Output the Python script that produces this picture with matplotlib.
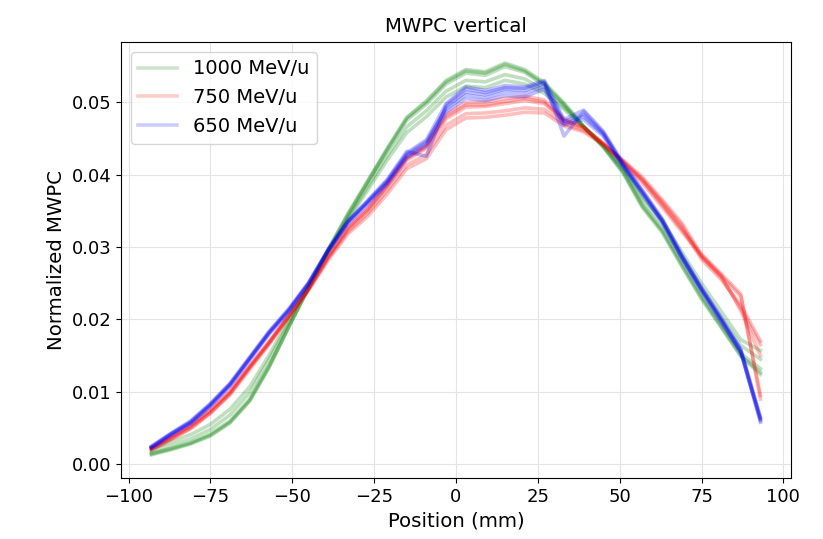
import matplotlib
matplotlib.use("Agg")
import matplotlib.pyplot as plt

# wire positions of the vertical MWPC (mm)
position = [-93, -87, -81, -75, -69, -63, -57, -51, -45, -39, -33, -27, -21, -15, -9, -3,
            3, 9, 15, 21, 27, 33, 39, 45, 51, 57, 63, 69, 75, 81, 87, 93]

# 1000 MeV/u runs
g1 = [0.0014, 0.0021, 0.0029, 0.0040, 0.0058, 0.0088, 0.0135, 0.0190, 0.0243, 0.0296, 0.0345, 0.0390, 0.0435, 0.0478, 0.0500, 0.0528,
      0.0543, 0.0540, 0.0552, 0.0543, 0.0525, 0.0497, 0.0466, 0.0438, 0.0404, 0.0356, 0.0322, 0.0275, 0.0230, 0.0190, 0.0150, 0.0127]
g2 = [0.0013, 0.0020, 0.0028, 0.0039, 0.0057, 0.0087, 0.0134, 0.0190, 0.0244, 0.0297, 0.0346, 0.0391, 0.0436, 0.0479, 0.0502, 0.0530,
      0.0545, 0.0542, 0.0554, 0.0545, 0.0527, 0.0499, 0.0467, 0.0438, 0.0402, 0.0354, 0.0320, 0.0273, 0.0228, 0.0189, 0.0149, 0.0124]
g3 = [0.0015, 0.0022, 0.0030, 0.0042, 0.0060, 0.0090, 0.0137, 0.0191, 0.0243, 0.0295, 0.0343, 0.0388, 0.0433, 0.0475, 0.0497, 0.0525,
      0.0540, 0.0537, 0.0549, 0.0541, 0.0523, 0.0496, 0.0466, 0.0439, 0.0405, 0.0358, 0.0324, 0.0278, 0.0233, 0.0193, 0.0153, 0.0132]
g4 = [0.0018, 0.0026, 0.0035, 0.0048, 0.0068, 0.0099, 0.0145, 0.0196, 0.0245, 0.0294, 0.0340, 0.0383, 0.0426, 0.0466, 0.0488, 0.0515,
      0.0530, 0.0528, 0.0538, 0.0532, 0.0517, 0.0493, 0.0466, 0.0440, 0.0408, 0.0364, 0.0331, 0.0286, 0.0242, 0.0203, 0.0164, 0.0145]
g5 = [0.0022, 0.0031, 0.0041, 0.0055, 0.0076, 0.0107, 0.0151, 0.0200, 0.0246, 0.0293, 0.0337, 0.0378, 0.0420, 0.0458, 0.0480, 0.0507,
      0.0522, 0.0520, 0.0530, 0.0525, 0.0512, 0.0490, 0.0465, 0.0441, 0.0411, 0.0369, 0.0337, 0.0293, 0.0250, 0.0211, 0.0172, 0.0157]

# 750 MeV/u runs
r1 = [0.0020, 0.0035, 0.0050, 0.0071, 0.0097, 0.0133, 0.0167, 0.0204, 0.0242, 0.0287, 0.0326, 0.0352, 0.0385, 0.0422, 0.0438, 0.0480,
      0.0496, 0.0496, 0.0501, 0.0505, 0.0500, 0.0475, 0.0465, 0.0443, 0.0417, 0.0391, 0.0358, 0.0324, 0.0290, 0.0263, 0.0235, 0.0090]
r2 = [0.0019, 0.0034, 0.0049, 0.0070, 0.0096, 0.0131, 0.0166, 0.0203, 0.0243, 0.0288, 0.0327, 0.0353, 0.0386, 0.0424, 0.0441, 0.0483,
      0.0499, 0.0500, 0.0505, 0.0508, 0.0503, 0.0477, 0.0466, 0.0442, 0.0415, 0.0388, 0.0355, 0.0321, 0.0287, 0.0260, 0.0232, 0.0095]
r3 = [0.0021, 0.0036, 0.0051, 0.0072, 0.0098, 0.0134, 0.0168, 0.0205, 0.0242, 0.0286, 0.0324, 0.0350, 0.0383, 0.0420, 0.0436, 0.0477,
      0.0493, 0.0494, 0.0498, 0.0502, 0.0498, 0.0474, 0.0464, 0.0443, 0.0418, 0.0392, 0.0360, 0.0326, 0.0283, 0.0255, 0.0220, 0.0170]
r4 = [0.0022, 0.0037, 0.0053, 0.0074, 0.0100, 0.0135, 0.0169, 0.0205, 0.0241, 0.0284, 0.0321, 0.0346, 0.0378, 0.0413, 0.0428, 0.0468,
      0.0484, 0.0485, 0.0488, 0.0492, 0.0490, 0.0470, 0.0461, 0.0442, 0.0419, 0.0394, 0.0363, 0.0330, 0.0286, 0.0258, 0.0215, 0.0165]
r5 = [0.0023, 0.0038, 0.0054, 0.0075, 0.0101, 0.0136, 0.0170, 0.0206, 0.0240, 0.0282, 0.0318, 0.0342, 0.0373, 0.0408, 0.0422, 0.0462,
      0.0478, 0.0479, 0.0482, 0.0486, 0.0485, 0.0467, 0.0459, 0.0441, 0.0420, 0.0396, 0.0365, 0.0333, 0.0289, 0.0261, 0.0212, 0.0150]

# 650 MeV/u runs
b1 = [0.0024, 0.0042, 0.0058, 0.0082, 0.0110, 0.0146, 0.0182, 0.0213, 0.0250, 0.0296, 0.0335, 0.0362, 0.0390, 0.0428, 0.0446, 0.0490,
      0.0510, 0.0506, 0.0514, 0.0512, 0.0522, 0.0470, 0.0480, 0.0455, 0.0412, 0.0374, 0.0335, 0.0285, 0.0240, 0.0198, 0.0155, 0.0060]
b2 = [0.0023, 0.0041, 0.0057, 0.0081, 0.0109, 0.0145, 0.0181, 0.0212, 0.0249, 0.0295, 0.0334, 0.0361, 0.0389, 0.0426, 0.0443, 0.0493,
      0.0514, 0.0510, 0.0518, 0.0516, 0.0526, 0.0473, 0.0483, 0.0457, 0.0413, 0.0375, 0.0336, 0.0286, 0.0241, 0.0199, 0.0156, 0.0058]
b3 = [0.0025, 0.0043, 0.0060, 0.0084, 0.0112, 0.0148, 0.0184, 0.0215, 0.0251, 0.0297, 0.0336, 0.0364, 0.0393, 0.0432, 0.0425, 0.0496,
      0.0518, 0.0513, 0.0520, 0.0519, 0.0528, 0.0453, 0.0487, 0.0458, 0.0415, 0.0377, 0.0338, 0.0288, 0.0243, 0.0201, 0.0158, 0.0065]
b4 = [0.0022, 0.0040, 0.0056, 0.0080, 0.0108, 0.0144, 0.0180, 0.0211, 0.0248, 0.0294, 0.0332, 0.0359, 0.0387, 0.0423, 0.0440, 0.0486,
      0.0505, 0.0502, 0.0509, 0.0507, 0.0518, 0.0468, 0.0476, 0.0453, 0.0411, 0.0373, 0.0334, 0.0284, 0.0239, 0.0197, 0.0154, 0.0062]
b5 = [0.0024, 0.0042, 0.0059, 0.0083, 0.0111, 0.0147, 0.0183, 0.0214, 0.0250, 0.0296, 0.0335, 0.0363, 0.0392, 0.0430, 0.0448, 0.0498,
      0.0521, 0.0516, 0.0523, 0.0521, 0.0530, 0.0476, 0.0489, 0.0460, 0.0416, 0.0378, 0.0339, 0.0289, 0.0244, 0.0202, 0.0159, 0.0063]

energies = ["1000 MeV/u", "750 MeV/u", "650 MeV/u"]
colors = ["green", "red", "blue"]
runs = [[g1, g2, g3, g4, g5], [r1, r2, r3, r4, r5], [b1, b2, b3, b4, b5]]

fig = plt.figure(figsize=(8.23, 5.39), dpi=100)
ax = fig.add_axes([0.147, 0.1132, 0.814, 0.8089])

for label, col, group in zip(energies, colors, runs):
    for i, prof in enumerate(group):
        ax.plot(position, prof, color=col, alpha=0.25, lw=2.6,
                label=label if i == 0 else None)

ax.set_ylim(-0.0019, 0.0583)
ax.grid(True, color="#e3e3e3", lw=0.8)
ax.set_title("MWPC vertical", fontsize=14.2, pad=7)
ax.set_xlabel("Position (mm)", fontsize=14.2)
ax.set_ylabel("Normalized MWPC", fontsize=14.2)
ax.tick_params(labelsize=13)
leg = ax.legend(loc="upper left", fontsize=14, borderaxespad=0.5)
# legend swatches are drawn fainter than the overlapped runs
for h in leg.legend_handles:
    h.set_alpha(0.2)

fig.savefig("out.png", dpi=100)
